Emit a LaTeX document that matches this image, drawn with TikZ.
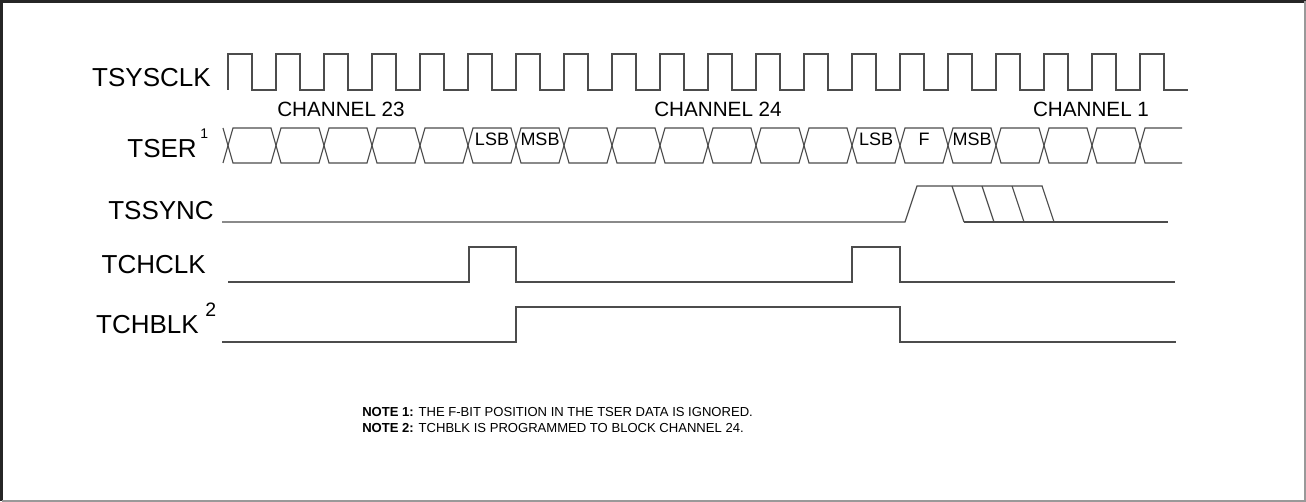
\documentclass[tikz,border=0pt]{standalone}
\usepackage{fontspec}
\setmainfont{Liberation Sans}
\usetikzlibrary{positioning}

\begin{document}
\begin{tikzpicture}[
    x=0.75pt, y=-0.75pt,
    sig/.style={line width=0.85pt, color=black!70, line join=miter},
    lbl/.style={anchor=base east, inner sep=0pt, font=\fontsize{19.5}{23}\selectfont},
    suplbl/.style={anchor=base west, inner sep=0pt},
    chlbl/.style={anchor=base, inner sep=0pt, font=\fontsize{15.5}{18}\selectfont},
    bitlbl/.style={anchor=base, inner sep=0pt, font=\fontsize{13.5}{16}\selectfont},
    notelbl/.style={anchor=base west, inner sep=0pt, font=\fontsize{9.8}{12}\selectfont}
]
\useasboundingbox (0,0) rectangle (1306,502);

% Frame
\draw[line width=1.6pt, black!85] (1.5,501) -- (1.5,1.5) -- (1306,1.5);
\draw[line width=1.4pt, black!40] (1.5,500.8) -- (1304.8,500.8) -- (1304.8,1.5);

% Signal names
\node[lbl] (tsysclk) at (211,87) {TSYSCLK};
\node[lbl] (tser) at (197,158) {TSER};
\node[suplbl, font=\fontsize{10.5}{12}\selectfont] (tsersup) at (200,139) {1};
\node[lbl] (tssync) at (214,220) {TSSYNC};
\node[lbl] (tchclk) at (206,273) {TCHCLK};
\node[lbl] (tchblk) at (199,333) {TCHBLK};
\node[suplbl, font=\fontsize{14.6}{16}\selectfont] (tchblksup) at (205,316) {2};

% TSYSCLK
\draw[sig] (228,90) \foreach \k in {0,...,19} { -- ++(0,-36) -- ++(24,0) -- ++(0,36) -- ++(24,0) };

% Channel labels
\node[chlbl] (ch23) at (341,117) {CHANNEL 23};
\node[chlbl] (ch24) at (718,117) {CHANNEL 24};
\node[chlbl] (ch1) at (1091,117) {CHANNEL 1};

% TSER data cells
\foreach \k in {0,...,18}
  \draw[sig] ({228+48*\k},145.5) -- ++(5,-17.5) -- ++(38,0) -- ++(5,17.5) -- ++(-5,17.5) -- ++(-38,0) -- cycle;
\draw[sig] (223,128) -- (228,145.5) -- (223,163);
\draw[sig] (1182,128) -- (1145,128) -- (1140,145.5) -- (1145,163) -- (1182,163);

\node[bitlbl] (lsba) at (492,146) {LSB};
\node[bitlbl] (msba) at (540,146) {MSB};
\node[bitlbl] (lsbb) at (876,146) {LSB};
\node[bitlbl] (fbit) at (924,146) {F};
\node[bitlbl] (msbb) at (972,146) {MSB};

% TSSYNC
\draw[sig] (222,222) -- (905,222) -- (917,186) -- (1042.5,186);
\foreach \t in {0,...,3}
  \draw[sig] ({952+30*\t},186) -- ++(12,36);
\draw[sig] (964,222) -- (1168,222);

% TCHCLK
\draw[sig] (228,282) -- (469,282) -- (469,247) -- (516,247) -- (516,282) -- (852,282)
  -- (852,247) -- (900,247) -- (900,282) -- (1175,282);

% TCHBLK
\draw[sig] (222,342) -- (516,342) -- (516,307) -- (900,307) -- (900,342) -- (1176,342);

% Notes
\node[notelbl] (note1) at (362,416) {\textbf{NOTE 1:} THE F-BIT POSITION IN THE TSER DATA IS IGNORED.};
\node[notelbl] (note2) at (362,432) {\textbf{NOTE 2:} TCHBLK IS PROGRAMMED TO BLOCK CHANNEL 24.};

\end{tikzpicture}
\end{document}
